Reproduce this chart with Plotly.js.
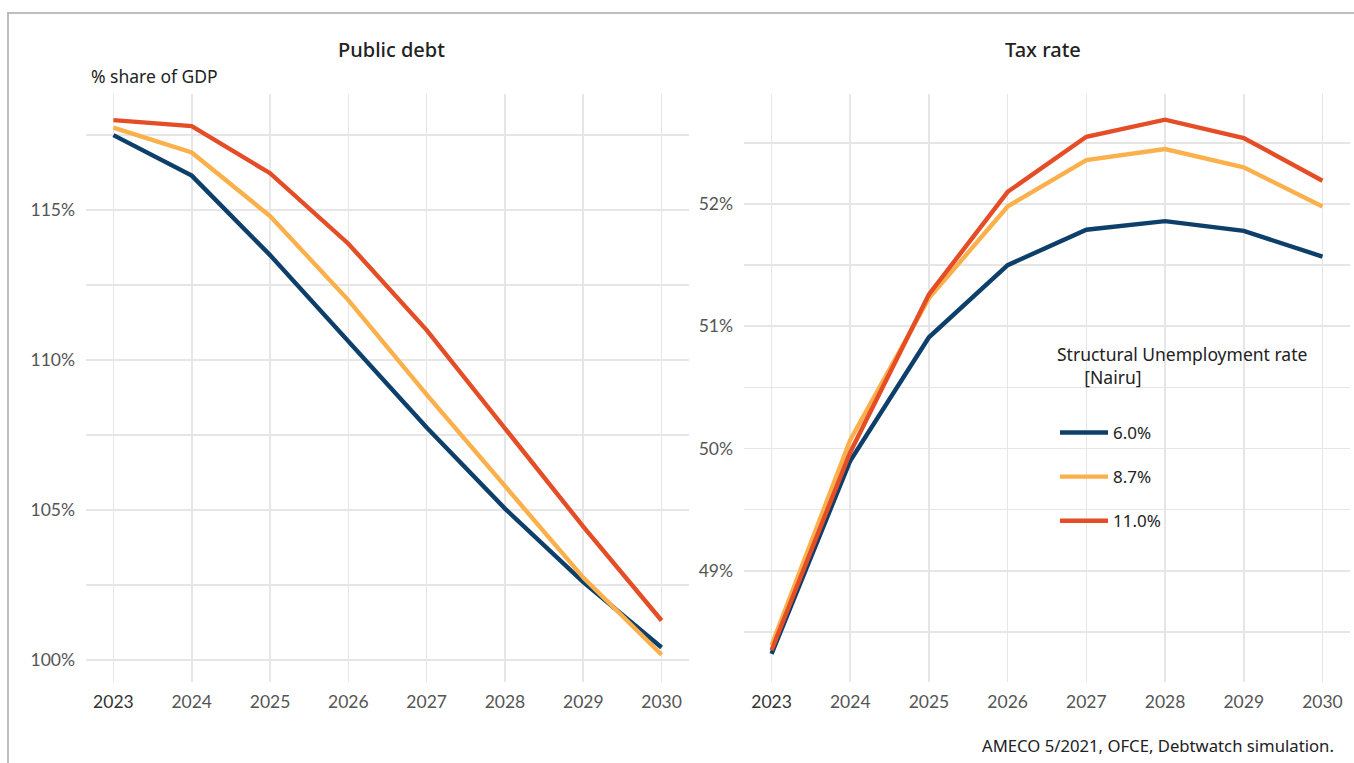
<!DOCTYPE html>
<html>
<head>
<meta charset="utf-8">
<script src="https://cdn.plot.ly/plotly-3.0.1.min.js"></script>
<style>
html,body{margin:0;padding:0;background:#fff;}
#chart{width:1354px;height:763px;}
</style>
</head>
<body>
<div id="chart"></div>
<script>
// ---- data ----
var years = [2023, 2024, 2025, 2026, 2027, 2028, 2029, 2030];
var seriesNames = ["6.0%", "8.7%", "11.0%"];
var seriesColors = ["#0d3f6b", "#fbb04c", "#e44d26"];

// Public debt, % of GDP
var debt60  = [117.5, 116.15, 113.5, 110.65, 107.75, 105.05, 102.6, 100.42];
var debt87  = [117.75, 116.92, 114.8, 112.0, 108.85, 105.8, 102.75, 100.18];
var debt110 = [118.0, 117.8, 116.23, 113.88, 111.0, 107.75, 104.45, 101.32];

// Tax rate, %
var tax60  = [48.32, 49.90, 50.91, 51.50, 51.79, 51.86, 51.78, 51.57];
var tax87  = [48.39, 50.07, 51.23, 51.98, 52.36, 52.45, 52.30, 51.98];
var tax110 = [48.35, 49.97, 51.26, 52.10, 52.55, 52.69, 52.54, 52.19];

var debtTicks = [100, 105, 110, 115];
var debtTickLabels = ["100%", "105%", "110%", "115%"];
var taxTicks = [49, 50, 51, 52];
var taxTickLabels = ["49%", "50%", "51%", "52%"];
var yearLabels = ["<span style='color:#333'>2023</span>", "2024", "2025", "2026", "2027", "2028", "2029", "2030"];

var W = 1354, H = 763;
function px(x){ return x / W; }
function py(y){ return 1 - y / H; }

var debtSeries = [debt60, debt87, debt110];
var taxSeries = [tax60, tax87, tax110];
var traces = [];
for (var i = 0; i < 3; i++) {
  traces.push({
    x: years, y: debtSeries[i], type: "scatter", mode: "lines",
    name: seriesNames[i], legendgroup: "g" + i, showlegend: false,
    line: {color: seriesColors[i], width: 4.4},
    xaxis: "x", yaxis: "y", hoverinfo: "skip"
  });
}
for (var i = 0; i < 3; i++) {
  traces.push({
    x: years, y: taxSeries[i], type: "scatter", mode: "lines",
    name: seriesNames[i], legendgroup: "g" + i, showlegend: true,
    line: {color: seriesColors[i], width: 4.4},
    xaxis: "x2", yaxis: "y2", hoverinfo: "skip"
  });
}

var tickFont = {family: "Lato, 'Noto Sans', sans-serif", size: 17.5, color: "#555"};
var gridColor = "#e6e6e6";
var textFont = "'Noto Sans', Lato, sans-serif";

function xax(domain, anchor) {
  return {
    domain: domain, anchor: anchor, range: [2022.65, 2030.35],
    tickmode: "array", tickvals: years, ticktext: yearLabels, tickfont: tickFont,
    showgrid: true, gridcolor: gridColor, gridwidth: 1.6,
    zeroline: false, showline: false, ticks: "", ticklabelstandoff: 7,
    fixedrange: true
  };
}
function yax(domain, anchor, range, vals, labels, minorStep, minor0) {
  return {
    domain: domain, anchor: anchor, range: range,
    tickmode: "array", tickvals: vals, ticktext: labels, tickfont: tickFont,
    showgrid: true, gridcolor: gridColor, gridwidth: 1.6,
    minor: {dtick: minorStep, tick0: minor0, showgrid: true, gridcolor: gridColor, gridwidth: 1.3},
    zeroline: false, showline: false, ticks: "", ticklabelstandoff: 10, fixedrange: true
  };
}

var layout = {
  width: W, height: H,
  margin: {l: 0, r: 0, t: 0, b: 0},
  paper_bgcolor: "#fff", plot_bgcolor: "#fff",
  font: {family: textFont, color: "#222"},
  showlegend: true,
  xaxis: xax([px(86), px(689)], "y"),
  xaxis2: xax([px(744), px(1350)], "y2"),
  yaxis: yax([py(682), py(94)], "x", [99.27, 118.87], debtTicks, debtTickLabels, 2.5, 100),
  yaxis2: yax([py(682), py(94)], "x2", [48.09, 52.9], taxTicks, taxTickLabels, 0.5, 48),
  legend: {
    x: px(1055), y: py(415), xanchor: "left", yanchor: "top",
    bgcolor: "rgba(255,255,255,0)",
    font: {family: textFont, size: 17, color: "#222"},
    traceorder: "grouped", tracegroupgap: 19, itemwidth: 48
  },
  annotations: [
    {text: "Public debt", x: px(391), y: py(50), xref: "paper", yref: "paper",
     xanchor: "center", yanchor: "middle", showarrow: false,
     font: {family: textFont, size: 20, color: "#222", weight: 500}},
    {text: "Tax rate", x: px(1043), y: py(50), xref: "paper", yref: "paper",
     xanchor: "center", yanchor: "middle", showarrow: false,
     font: {family: textFont, size: 20, color: "#222", weight: 500}},
    {text: "% share of GDP", x: px(89), y: py(76), xref: "paper", yref: "paper",
     xanchor: "left", yanchor: "middle", showarrow: false,
     font: {family: textFont, size: 17.5, color: "#222"}},
    {text: "Structural Unemployment rate<br>\u00A0\u00A0\u00A0\u00A0\u00A0\u00A0[Nairu]",
     x: px(1055), y: py(340), xref: "paper", yref: "paper",
     xanchor: "left", yanchor: "top", align: "left", showarrow: false,
     font: {family: textFont, size: 17.5, color: "#222"}},
    {text: "AMECO 5/2021, OFCE, Debtwatch simulation.", x: px(1336), y: py(745), xref: "paper", yref: "paper",
     xanchor: "right", yanchor: "middle", showarrow: false,
     font: {family: textFont, size: 16.7, color: "#222"}}
  ],
  shapes: [
    {type: "line", xref: "paper", yref: "paper", x0: px(7), x1: 1, y0: py(13), y1: py(13),
     line: {color: "#a8a8a8", width: 1.5}},
    {type: "line", xref: "paper", yref: "paper", x0: px(8), x1: px(8), y0: py(13), y1: 0,
     line: {color: "#a8a8a8", width: 1.5}}
  ]
};

Plotly.newPlot("chart", traces, layout, {displayModeBar: false, staticPlot: true});
</script>
</body>
</html>
